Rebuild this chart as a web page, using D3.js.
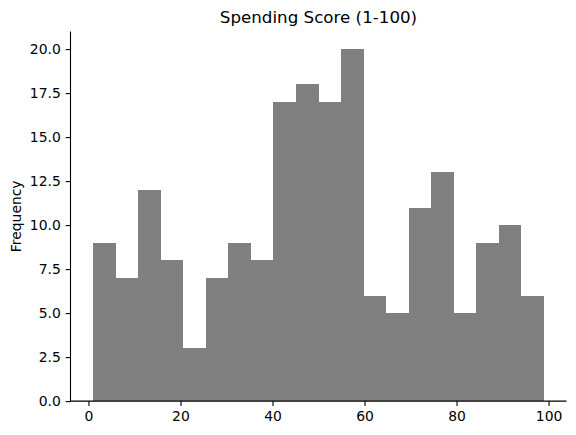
<!DOCTYPE html>
<html>
<head>
<meta charset="utf-8">
<script src="https://cdn.jsdelivr.net/npm/d3@7"></script>
<style>
  html, body { margin: 0; padding: 0; background: #fff; }
  svg { display: block; }
  text { font-family: "DejaVu Sans", sans-serif; fill: #000; }
</style>
</head>
<body>
<script>
// Histogram of Spending Score (1-100), 20 bins from 1 to 99
const binStart = 1;
const binEnd = 99;
const counts = [9, 7, 12, 8, 3, 7, 9, 8, 17, 18, 17, 20, 6, 5, 11, 13, 5, 9, 10, 6];
const xTicks = [0, 20, 40, 60, 80, 100];
const yTicks = [0, 2.5, 5, 7.5, 10, 12.5, 15, 17.5, 20];
const titleText = "Spending Score (1-100)";
const yLabel = "Frequency";

const W = 576, H = 435;
const pLeft = 70.5, pRight = 566.5, pTop = 31.5, pBottom = 401.1;

const nBins = counts.length;
const bw = (binEnd - binStart) / nBins;
const bins = counts.map((c, i) => ({ x0: binStart + i * bw, x1: binStart + (i + 1) * bw, count: c }));

const xMargin = (binEnd - binStart) * 0.05;
const x = d3.scaleLinear().domain([binStart - xMargin, binEnd + xMargin]).range([pLeft, pRight]);
const yMax = d3.max(counts) * 1.05;
const y = d3.scaleLinear().domain([0, yMax]).range([pBottom, pTop]);

const svg = d3.select("body").append("svg").attr("width", W).attr("height", H);

svg.append("g").selectAll("rect").data(bins).join("rect")
  .attr("x", d => x(d.x0))
  .attr("width", d => x(d.x1) - x(d.x0))
  .attr("y", d => y(d.count))
  .attr("height", d => y(0) - y(d.count))
  .attr("fill", "#808080")
  .attr("shape-rendering", "crispEdges");

const fontPx = 13.9;
const xAxis = d3.axisBottom(x).tickValues(xTicks).tickFormat(d3.format("d"))
  .tickSize(4.86).tickPadding(4.86).tickSizeOuter(0);
const gx = svg.append("g").attr("transform", `translate(0,${pBottom})`).call(xAxis);
gx.select(".domain").remove();
gx.selectAll("line").attr("stroke", "#000").attr("stroke-width", 1.1);
gx.selectAll("text").attr("font-size", fontPx).attr("font-family", "DejaVu Sans");

const yAxis = d3.axisLeft(y).tickValues(yTicks).tickFormat(d3.format(".1f"))
  .tickSize(4.86).tickPadding(4.86).tickSizeOuter(0);
const gy = svg.append("g").attr("transform", `translate(${pLeft},0)`).call(yAxis);
gy.select(".domain").remove();
gy.selectAll("line").attr("stroke", "#000").attr("stroke-width", 1.1);
gy.selectAll("text").attr("font-size", fontPx).attr("font-family", "DejaVu Sans");

// spines
svg.append("line").attr("x1", pLeft).attr("x2", pLeft).attr("y1", pTop).attr("y2", pBottom + 0.55)
  .attr("stroke", "#000").attr("stroke-width", 1.1);
svg.append("line").attr("x1", pLeft - 0.55).attr("x2", pRight).attr("y1", pBottom).attr("y2", pBottom)
  .attr("stroke", "#000").attr("stroke-width", 1.1);

svg.append("text").attr("x", (pLeft + pRight) / 2).attr("y", 23.2)
  .attr("text-anchor", "middle").attr("font-size", 16.7).text(titleText);

svg.append("text")
  .attr("transform", `translate(20.5,${(pTop + pBottom) / 2}) rotate(-90)`)
  .attr("text-anchor", "middle").attr("font-size", fontPx).text(yLabel);
</script>
</body>
</html>
